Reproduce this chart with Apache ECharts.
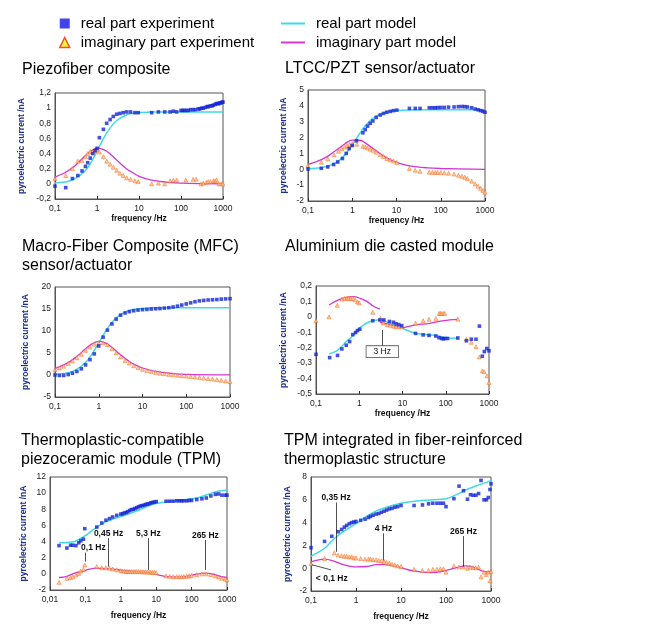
<!DOCTYPE html>
<html><head><meta charset="utf-8">
<script src="https://cdn.jsdelivr.net/npm/echarts@6/dist/echarts.min.js"></script>
<style>html,body{margin:0;padding:0;background:#fff}#c{width:662px;height:625px}</style>
</head><body><div id="c"></div>
<script>
// ---------- titles ----------
const titles = ['Piezofiber composite', 'LTCC/PZT sensor/actuator', 'Macro-Fiber Composite (MFC)\nsensor/actuator',
  'Aluminium die casted module', 'Thermoplastic-compatible\npiezoceramic module (TPM)', 'TPM integrated in fiber-reinforced\nthermoplastic structure'];
const legendNames = ['real part experiment', 'imaginary part experiment', 'real part model', 'imaginary part model'];
const xName = 'frequency /Hz';
const yName = 'pyroelectric current /nA';

// ---------- axis ranges [min, max, interval] ----------
const xRanges = [[0.1, 1000], [0.1, 1000], [0.1, 1000], [0.1, 1000], [0.01, 1000], [0.1, 1000]];
const yRanges = [[-0.2, 1.2, 0.2], [-2, 5, 1], [-5, 20, 5], [-0.5, 0.2, 0.1], [-2, 12, 2], [-2, 8, 2]];

// ---------- Plot 1: Piezofiber composite ----------
const p1RealExp = [[0.1,-0.03],[0.18,-0.05],[0.26,0.07],[0.35,0.11],[0.44,0.17],[0.53,0.23],[0.6,0.28],[0.69,0.34],[0.79,0.4],[0.9,0.44],[1.0,0.47],[1.14,0.61],[1.42,0.72],[1.7,0.8],[2.05,0.85],[2.45,0.89],[2.94,0.92],[3.5,0.93],[4.2,0.94],[5.1,0.95],[6.3,0.95],[8,0.94],[9.6,0.94],[20,0.94],[29,0.95],[41,0.95],[55,0.95],[66,0.96],[79,0.95],[100,0.97],[110,0.97],[120,0.97],[135,0.97],[150,0.97],[170,0.98],[195,0.98],[220,0.98],[257,0.99],[280,0.99],[310,1.0],[340,1.0],[380,1.01],[420,1.02],[446,1.02],[500,1.03],[550,1.03],[590,1.04],[650,1.05],[700,1.06],[750,1.06],[800,1.06],[850,1.07],[900,1.07],[950,1.08],[1000,1.08]];
const p1ImagExp = [[0.1,0.07],[0.18,0.11],[0.26,0.2],[0.35,0.3],[0.44,0.31],[0.53,0.36],[0.6,0.4],[0.69,0.43],[0.79,0.42],[0.9,0.44],[1.0,0.45],[1.14,0.42],[1.42,0.36],[1.7,0.3],[2.05,0.26],[2.45,0.22],[2.94,0.18],[3.5,0.14],[4.2,0.11],[5.1,0.08],[6.3,0.06],[8,0.04],[9.6,0.03],[20,0.0],[29,0.01],[41,0.0],[55,0.04],[66,0.05],[79,0.05],[130,0.05],[195,0.06],[230,0.06],[300,0.0],[340,0.01],[400,0.02],[446,0.03],[500,0.03],[590,0.04],[650,0.04],[700,0.05],[800,0.0],[900,0.0],[1000,0.0]];
const p1RealModel = [[0.1,0.01],[0.15,0.02],[0.2,0.03],[0.3,0.07],[0.5,0.16],[0.7,0.27],[1,0.43],[1.5,0.62],[2,0.73],[3,0.84],[5,0.91],[7,0.93],[10,0.94],[20,0.95],[50,0.95],[100,0.95],[1000,0.95]];
const p1ImagModel = [[0.1,0.09],[0.15,0.13],[0.2,0.17],[0.3,0.24],[0.5,0.36],[0.7,0.43],[1,0.47],[1.5,0.45],[2,0.4],[3,0.31],[5,0.2],[7,0.15],[10,0.1],[20,0.05],[50,0.02],[100,0.01],[1000,0.0]];

// ---------- Plot 2: LTCC/PZT ----------
const p2RealExp = [[0.1,0.02],[0.2,0.06],[0.28,0.15],[0.38,0.3],[0.47,0.46],[0.6,0.68],[0.73,1.0],[0.85,1.3],[1.0,1.5],[1.25,1.8],[1.74,2.3],[1.96,2.5],[2.22,2.72],[2.55,2.9],[2.93,3.05],[3.48,3.27],[4.28,3.42],[5.09,3.52],[6.05,3.6],[7.2,3.65],[8.55,3.7],[10.2,3.73],[19.6,3.84],[26.5,3.84],[34,3.84],[55,3.88],[65,3.88],[75,3.88],[85,3.89],[100,3.9],[120,3.9],[150,3.92],[200,3.93],[250,3.95],[300,3.96],[350,3.95],[400,3.93],[500,3.88],[600,3.8],[700,3.75],[800,3.7],[900,3.65],[1000,3.6]];
const p2ImagExp = [[0.1,0.25],[0.2,0.45],[0.28,0.65],[0.39,0.9],[0.49,1.14],[0.58,1.3],[0.67,1.41],[0.76,1.48],[0.87,1.56],[1.0,1.6],[1.27,1.58],[1.74,1.45],[1.96,1.41],[2.22,1.35],[2.55,1.27],[2.93,1.2],[3.48,1.08],[4.28,0.92],[5.09,0.8],[6.05,0.68],[7.2,0.6],[8.55,0.52],[10.2,0.43],[19.6,0.05],[26.5,-0.06],[34,-0.13],[55,-0.18],[65,-0.19],[75,-0.2],[85,-0.2],[100,-0.21],[120,-0.22],[150,-0.25],[200,-0.3],[250,-0.37],[300,-0.44],[350,-0.5],[400,-0.58],[500,-0.75],[600,-0.92],[700,-1.07],[800,-1.2],[900,-1.33],[1000,-1.45]];
const p2RealModel = [[0.1,0.03],[0.2,0.1],[0.3,0.22],[0.5,0.55],[0.7,0.95],[1,1.54],[1.5,2.29],[2,2.76],[3,3.23],[5,3.55],[7,3.64],[10,3.7],[20,3.74],[50,3.75],[1000,3.75]];
const p2ImagModel = [[0.1,0.31],[0.2,0.61],[0.3,0.88],[0.5,1.33],[0.7,1.63],[1,1.84],[1.5,1.83],[2,1.65],[3,1.29],[5,0.85],[7,0.62],[10,0.44],[20,0.22],[50,0.09],[100,0.05],[1000,0.0]];

// ---------- Plot 3: MFC ----------
const p3RealExp = [[0.1,0],[0.126,-0.1],[0.158,-0.1],[0.2,0.1],[0.25,0.4],[0.316,0.8],[0.4,1.4],[0.5,2.3],[0.63,3.5],[0.79,4.8],[1,6.6],[1.26,8.6],[1.58,10.2],[2,11.6],[2.5,12.7],[3.16,13.6],[4,14.1],[5,14.4],[6.3,14.6],[7.9,14.75],[10,14.85],[12.6,14.9],[15.8,15.0],[20,15.05],[25,15.1],[31.6,15.2],[40,15.3],[50,15.45],[63,15.65],[79,15.9],[100,16.15],[126,16.4],[158,16.65],[200,16.85],[251,16.95],[316,17.05],[398,17.1],[501,17.15],[631,17.25],[794,17.3],[1000,17.35]];
const p3ImagExp = [[0.1,1.2],[0.126,1.6],[0.158,2.0],[0.2,2.6],[0.25,3.2],[0.316,3.9],[0.4,4.7],[0.5,5.6],[0.63,6.4],[0.79,7.0],[1,7.3],[1.26,7.3],[1.58,6.9],[2,6.0],[2.5,5.0],[3.16,4.1],[4,3.3],[5,2.7],[6.3,2.1],[7.9,1.7],[10,1.3],[12.6,1.0],[15.8,0.8],[20,0.6],[25,0.4],[31.6,0.3],[40,0.15],[50,0.05],[63,-0.05],[79,-0.15],[100,-0.25],[126,-0.35],[158,-0.45],[200,-0.55],[251,-0.7],[316,-0.8],[398,-0.9],[501,-1.05],[631,-1.2],[794,-1.35],[1000,-1.5]];
const p3RealModel = [[0.1,0.14],[0.2,0.54],[0.3,1.15],[0.5,2.83],[0.7,4.71],[1,7.28],[1.5,10.27],[2,11.99],[3,13.63],[5,14.65],[7,14.96],[10,15.13],[20,15.26],[50,15.3],[1000,15.3]];
const p3ImagModel = [[0.1,1.44],[0.2,2.81],[0.3,4.04],[0.5,5.94],[0.7,7.06],[1,7.64],[1.5,7.19],[2,6.3],[3,4.77],[5,3.08],[7,2.25],[10,1.59],[20,0.8],[50,0.32],[100,0.16],[1000,0.02]];

// ---------- Plot 4: Aluminium die casted module ----------
const p4RealExp = [[0.1,-0.243],[0.207,-0.264],[0.315,-0.25],[0.396,-0.208],[0.5,-0.184],[0.6,-0.16],[0.71,-0.115],[0.82,-0.102],[0.91,-0.089],[1.03,-0.08],[2.05,-0.025],[3.0,-0.02],[3.7,-0.02],[5,-0.03],[6.2,-0.035],[7.1,-0.045],[8.2,-0.05],[9.6,-0.057],[20,-0.107],[30,-0.117],[41,-0.12],[59,-0.124],[70,-0.135],[80,-0.14],[88,-0.142],[95,-0.14],[110,-0.14],[190,-0.137],[300,-0.155],[390,-0.145],[500,-0.145],[600,-0.06],[700,-0.255],[780,-0.225],[890,-0.205],[1000,-0.22]];
const p4ImagExp = [[0.1,-0.025],[0.2,0.0],[0.31,0.075],[0.4,0.115],[0.46,0.12],[0.52,0.12],[0.57,0.12],[0.64,0.118],[0.71,0.12],[0.8,0.11],[0.91,0.097],[1.0,0.09],[2.05,0.03],[3.1,-0.01],[3.6,-0.04],[4.5,-0.05],[5.2,-0.055],[6.2,-0.06],[7.1,-0.063],[8.2,-0.065],[9.6,-0.065],[20,-0.04],[30,-0.025],[41,-0.016],[59,-0.01],[70,0.022],[75,0.022],[80,0.022],[88,0.022],[95,0.022],[190,-0.015],[300,-0.143],[390,-0.165],[500,-0.193],[600,-0.26],[700,-0.35],[770,-0.355],[900,-0.383],[1000,-0.425]];
const p4RealModel = [[0.2,-0.24],[0.3,-0.22],[0.4,-0.19],[0.5,-0.16],[0.7,-0.125],[0.9,-0.085],[1.3,-0.05],[1.8,-0.03],[2.6,-0.02],[3,-0.018],[5.2,-0.044],[7.3,-0.059],[10,-0.075],[15,-0.095],[20,-0.107],[30,-0.113],[43,-0.117],[60,-0.12],[90,-0.133],[125,-0.138],[190,-0.137]];
const p4ImagModelLow = [[0.2,0.077],[0.33,0.11],[0.5,0.127],[0.74,0.131],[1.05,0.12],[1.5,0.1],[2.1,0.07],[3,0.05]];
const p4ImagModelHigh = [[3,-0.035],[5,-0.05],[7,-0.062],[10,-0.07],[15,-0.06],[20,-0.052],[43,-0.042],[90,-0.024],[190,-0.016]];

// ---------- Plot 5: TPM ----------
const p5RealExp = [[0.018,3.5],[0.03,3.2],[0.038,3.55],[0.044,3.55],[0.054,3.5],[0.065,3.85],[0.074,4.1],[0.088,4.3],[0.096,5.6],[0.21,5.8],[0.29,6.3],[0.38,6.65],[0.48,6.85],[0.59,7.05],[0.77,7.25],[1,7.4],[1.12,7.45],[1.26,7.55],[1.41,7.6],[1.58,7.7],[1.78,7.85],[2,7.95],[2.24,8.0],[2.51,8.1],[2.82,8.2],[3.16,8.3],[3.55,8.4],[3.98,8.45],[4.47,8.5],[5.01,8.6],[5.62,8.65],[6.31,8.7],[7.08,8.8],[7.94,8.85],[8.91,8.9],[10,8.95],[19,9.0],[24,9.0],[30,9.0],[38,9.05],[45,9.05],[52,9.05],[60,9.05],[73,9.05],[85,9.1],[100,9.1],[140,9.2],[195,9.3],[260,9.4],[350,9.65],[470,9.85],[580,9.9],[720,9.75],[900,9.75],[1000,9.75]];
const p5ImagExp = [[0.018,-1.05],[0.03,-0.55],[0.038,-0.47],[0.044,-0.35],[0.054,-0.15],[0.065,0.05],[0.074,0.35],[0.088,0.55],[0.096,1.1],[0.21,0.9],[0.29,0.75],[0.38,0.75],[0.48,0.7],[0.59,0.6],[0.77,0.5],[1,0.4],[1.12,0.35],[1.26,0.35],[1.41,0.3],[1.58,0.3],[1.78,0.3],[2,0.28],[2.24,0.28],[2.51,0.28],[2.82,0.28],[3.16,0.28],[3.55,0.28],[3.98,0.27],[4.47,0.25],[5.01,0.25],[5.62,0.22],[6.31,0.22],[7.08,0.2],[7.94,0.2],[8.91,0.18],[10,0.15],[19,-0.25],[24,-0.3],[30,-0.35],[38,-0.35],[45,-0.35],[52,-0.35],[60,-0.33],[73,-0.3],[85,-0.25],[100,-0.2],[140,-0.1],[195,0.0],[260,0.0],[350,-0.1],[470,-0.25],[580,-0.4],[720,-0.55],[900,-0.65],[1000,-0.75]];
const p5RealModel = [[0.018,3.85],[0.03,3.9],[0.05,4.0],[0.088,4.6],[0.12,5.0],[0.21,5.8],[0.4,6.5],[0.69,6.9],[1.2,7.2],[2.3,7.65],[4.4,8.15],[8.4,8.65],[10,8.7],[20,8.95],[38,9.1],[73,9.2],[140,9.4],[270,9.8],[520,10.2],[1000,10.4]];
const p5ImagModel = [[0.018,-0.45],[0.03,-0.3],[0.05,0.1],[0.088,0.35],[0.12,0.55],[0.21,0.7],[0.4,0.65],[0.69,0.55],[1.2,0.4],[2.3,0.3],[4.4,0.2],[8.4,0.05],[13,-0.2],[20,-0.35],[38,-0.4],[73,-0.3],[140,-0.05],[240,0.1],[420,-0.05],[660,-0.3],[1000,-0.45]];

// ---------- Plot 6: TPM in fiber-reinforced structure ----------
const p6RealExp = [[0.1,1.8],[0.2,2.35],[0.29,2.8],[0.4,3.2],[0.48,3.4],[0.55,3.6],[0.62,3.75],[0.71,3.9],[0.8,4.0],[0.9,4.05],[1.0,4.1],[1.27,4.2],[1.59,4.3],[1.9,4.45],[2.1,4.55],[2.4,4.65],[2.8,4.75],[3.2,4.8],[3.66,4.9],[4.2,5.0],[4.8,5.1],[5.5,5.2],[6.3,5.25],[7.3,5.35],[8.4,5.4],[10,5.5],[19.5,5.5],[30,5.55],[41,5.65],[51,5.7],[63,5.7],[75,5.7],[88,5.7],[100,5.4],[150,6.1],[195,7.2],[245,6.8],[300,6.05],[350,6.45],[400,6.4],[460,6.4],[530,6.55],[600,7.7],[700,6.0],[790,6.0],[870,6.2],[950,6.9],[1000,7.4]];
const p6ImagExp = [[0.1,0.4],[0.2,0.85],[0.33,1.35],[0.4,1.15],[0.48,1.1],[0.55,1.05],[0.62,1.05],[0.71,1.0],[0.8,1.0],[0.9,0.9],[1.0,0.9],[1.27,0.85],[1.59,0.8],[1.9,0.8],[2.1,0.8],[2.4,0.75],[2.8,0.73],[3.2,0.68],[3.66,0.65],[4.2,0.6],[4.8,0.5],[5.5,0.45],[6.3,0.35],[7.3,0.3],[8.4,0.2],[10,0.15],[19.5,-0.1],[30,-0.2],[41,-0.2],[51,-0.1],[63,-0.1],[75,-0.05],[88,-0.05],[100,-0.35],[150,0.2],[195,0.1],[245,0.1],[300,0.0],[350,0.1],[400,0.05],[460,0.05],[530,0.1],[600,-0.75],[700,-0.35],[790,-0.55],[870,-0.35],[950,-1.1],[1000,-0.3]];
const p6RealModel = [[0.1,1.05],[0.2,1.75],[0.31,2.5],[0.52,3.2],[1.0,3.9],[1.7,4.55],[2.9,5.05],[5.7,5.45],[10,5.7],[22,5.9],[53,6.0],[100,6.1],[170,6.45],[290,6.9],[490,7.25],[820,7.55],[1000,7.7]];
const p6ImagModel = [[0.1,0.55],[0.2,0.8],[0.31,0.65],[0.52,0.32],[1.0,0.12],[1.7,0.15],[2.9,0.32],[4,0.32],[5.7,0.27],[10,0.05],[16,-0.18],[27,-0.32],[45,-0.38],[75,-0.32],[125,-0.1],[190,0.1],[270,0.2],[380,0.12],[580,-0.18],[820,-0.32],[1000,-0.25]];

// ---------- annotations (label, frequency, arrow start, arrow end) ----------
const p4Notes = [['3 Hz', 3.4, -0.19, -0.085]];
const p5Notes = [['0,1 Hz', 0.1, 2.64, 1.52], ['0,45 Hz', 0.45, 4.42, 0.9], ['5,3 Hz', 6.0, 4.42, 0.49], ['265 Hz', 245, 4.2, 0.49]];
const p6Notes = [['0,35 Hz', 0.36, 5.76, 1.44], ['4 Hz', 4.07, 3.06, 0.7], ['265 Hz', 245, 2.82, 0.12]];
const p6LowNote = ['< 0,1 Hz', [0.105, 0.3], [0.28, -0.15], [0.29, -0.95]];

// ---------- styling / layout ----------
const FONT = "'Liberation Sans', Arial, sans-serif";
const FONTN = "'Liberation Sans Narrow', 'Liberation Sans', Arial, sans-serif";
const C_BLUE = '#1426d6', C_CYAN = '#3fdbe3', C_MAG = '#d435d4';
const grids = [
  {left: 55, top: 93, width: 168, height: 106},
  {left: 308, top: 90, width: 177, height: 111},
  {left: 55, top: 287, width: 175, height: 110},
  {left: 316, top: 286, width: 173, height: 108},
  {left: 50, top: 477, width: 177, height: 113},
  {left: 311, top: 477, width: 180, height: 114}
];
const titlePos = [[22, 60], [285, 59], [22, 237], [285, 237], [21, 431], [284, 431]];
const yNameGaps = [29, 20, 25, 28, 22, 19];
const xNameGaps = [14, 14, null, 14, 21, 21];

const plots = [
  {re: p1RealExp, ie: p1ImagExp, rm: [p1RealModel], im: [p1ImagModel]},
  {re: p2RealExp, ie: p2ImagExp, rm: [p2RealModel], im: [p2ImagModel]},
  {re: p3RealExp, ie: p3ImagExp, rm: [p3RealModel], im: [p3ImagModel]},
  {re: p4RealExp, ie: p4ImagExp, rm: [p4RealModel], im: [p4ImagModelLow, p4ImagModelHigh]},
  {re: p5RealExp, ie: p5ImagExp, rm: [p5RealModel], im: [p5ImagModel]},
  {re: p6RealExp, ie: p6ImagExp, rm: [p6RealModel], im: [p6ImagModel]}
];

const fmt = v => String(+(+v).toFixed(6)).replace('.', ',');

const xAxes = [], yAxes = [], series = [];
plots.forEach((p, i) => {
  xAxes.push({
    type: 'log', logBase: 10, gridIndex: i, min: xRanges[i][0], max: xRanges[i][1],
    axisLine: {onZero: false, lineStyle: {color: '#555', width: 1}},
    axisTick: {inside: true, length: 3, lineStyle: {color: '#333'}},
    minorTick: {show: false}, splitLine: {show: false},
    axisLabel: {fontSize: 8.5, color: '#222', fontFamily: FONTN, margin: 5, formatter: fmt},
    name: xNameGaps[i] === null ? '' : xName, nameLocation: 'middle', nameGap: xNameGaps[i] || 0,
    nameTextStyle: {fontSize: 8.5, fontWeight: 'bold', fontFamily: FONTN, color: '#111'}
  });
  yAxes.push({
    type: 'value', gridIndex: i, min: yRanges[i][0], max: yRanges[i][1], interval: yRanges[i][2],
    axisLine: {show: true, onZero: false, lineStyle: {color: '#555', width: 1}},
    axisTick: {show: false}, splitLine: {show: false},
    axisLabel: {fontSize: 8.5, color: '#222', fontFamily: FONTN, margin: 4, formatter: fmt},
    name: yName, nameLocation: 'middle', nameGap: yNameGaps[i], nameRotate: 90,
    nameTextStyle: {fontSize: 8.5, fontWeight: 'bold', fontFamily: FONTN, color: '#1c2f8c'}
  });
  p.rm.forEach(d => series.push({
    type: 'line', name: legendNames[2], xAxisIndex: i, yAxisIndex: i, data: d, smooth: 0.35,
    symbol: 'none', showSymbol: false, z: 2, lineStyle: {color: C_CYAN, width: 1.5}, itemStyle: {color: C_CYAN}
  }));
  p.im.forEach(d => series.push({
    type: 'line', name: legendNames[3], xAxisIndex: i, yAxisIndex: i, data: d, smooth: 0.35,
    symbol: 'none', showSymbol: false, z: 2, lineStyle: {color: C_MAG, width: 1.3}, itemStyle: {color: C_MAG}
  }));
  series.push({
    type: 'scatter', name: legendNames[0], xAxisIndex: i, yAxisIndex: i, data: p.re,
    symbol: 'rect', symbolSize: 3.6, z: 4, itemStyle: {color: C_BLUE}
  });
  series.push({
    type: 'scatter', name: legendNames[1], xAxisIndex: i, yAxisIndex: i, data: p.ie,
    symbol: 'triangle', symbolSize: 4, z: 3, itemStyle: {color: '#ffbf85', borderColor: '#f5661c', borderWidth: 0.6}
  });
});

// annotation helpers
const arrowLabel = {show: true, position: 'start', formatter: '{b}', fontFamily: FONT, fontWeight: 'bold',
  fontSize: 8.5, color: '#111', distance: 0};
function noteLines(notes, extraLabel) {
  return notes.map(n => [
    {name: n[0], coord: [n[1], n[2]], label: extraLabel ? Object.assign({}, arrowLabel, extraLabel(n)) : arrowLabel},
    {coord: [n[1], n[3]]}
  ]);
}
function annotSeries(i, data, opts) {
  return Object.assign({
    type: 'scatter', name: 'annot' + i, xAxisIndex: i, yAxisIndex: i, data: [], silent: true, z: 5,
    markLine: Object.assign({silent: true, animation: false, symbol: ['none', 'arrow'], symbolSize: [0, 5],
      lineStyle: {color: '#222', width: 0.8, type: 'solid'}, data: data}, opts || {})
  });
}
// plot 4 (boxed label)
series.push(annotSeries(3, noteLines(p4Notes, () => ({
  fontWeight: 'normal', backgroundColor: '#fff', borderColor: '#555', borderWidth: 0.8, padding: [1, 7], distance: 0
}))));
// plot 5
series.push(annotSeries(4, noteLines(p5Notes, n => n[0] === '0,1 Hz' ? {padding: [0, 0, 0, 16]} : {})));
// plot 6
const s6 = annotSeries(5, noteLines(p6Notes).concat([[
  {name: '', coord: p6LowNote[1], symbol: 'none', label: {show: false}}, {coord: p6LowNote[2], symbol: 'none'}
]]));
s6.markPoint = {silent: true, animation: false, symbol: 'circle', symbolSize: 1, itemStyle: {color: 'rgba(0,0,0,0)'},
  label: {show: true, position: 'inside', formatter: '{b}', fontFamily: FONT, fontWeight: 'bold', fontSize: 8.5, color: '#111'},
  data: [{name: p6LowNote[0], coord: p6LowNote[3]}]};
series.push(s6);

const option = {
  animation: false,
  backgroundColor: '#fff',
  title: titles.map((t, i) => ({
    text: t, left: titlePos[i][0], top: titlePos[i][1], padding: 0,
    textStyle: {fontSize: 16, fontWeight: 'normal', fontFamily: FONT, color: '#000', lineHeight: 19}
  })),
  legend: [
    {left: 59, top: 16, padding: 0, orient: 'vertical', itemGap: 4, itemWidth: 10, itemHeight: 10,
     textStyle: {fontSize: 15, fontFamily: FONT, color: '#000', padding: [0, 0, 0, 6]},
     data: [{name: legendNames[0], icon: 'rect', itemStyle: {color: '#1414e6'}},
            {name: legendNames[1], icon: 'triangle', itemStyle: {color: '#ffee10', borderColor: '#e02a10', borderWidth: 1.5}}]},
    {left: 281, top: 16, padding: 0, orient: 'vertical', itemGap: 4, itemWidth: 24, itemHeight: 2,
     textStyle: {fontSize: 15, fontFamily: FONT, color: '#000', padding: [0, 0, 0, 6]},
     data: [{name: legendNames[2], icon: 'rect'}, {name: legendNames[3], icon: 'rect'}]}
  ],
  grid: grids.map(g => Object.assign({show: true, borderColor: '#555', borderWidth: 1, containLabel: false}, g)),
  xAxis: xAxes,
  yAxis: yAxes,
  series: series
};

const chart = echarts.init(document.getElementById('c'), null, {renderer: 'canvas'});
chart.setOption(option);
</script>
</body></html>
